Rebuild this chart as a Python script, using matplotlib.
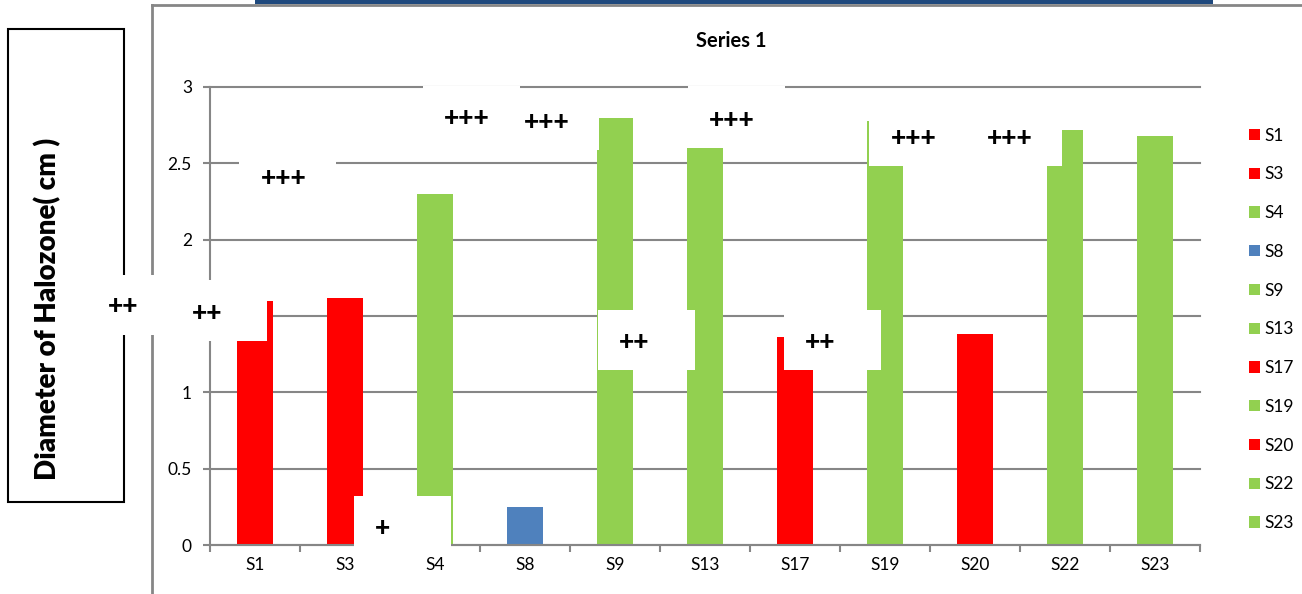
import numpy as np
import matplotlib.pyplot as plt
from matplotlib.patches import Rectangle, Patch
from matplotlib.lines import Line2D

W, H = 1302, 594

samples = ['S1', 'S3', 'S4', 'S8', 'S9', 'S13', 'S17', 'S19', 'S20', 'S22', 'S23']
diameter = [1.60, 1.62, 2.30, 0.25, 2.80, 2.60, 1.36, 2.78, 1.38, 2.72, 2.68]
colours = ['#ff0000', '#ff0000', '#92d050', '#4f81bd', '#92d050', '#92d050',
           '#ff0000', '#92d050', '#ff0000', '#92d050', '#92d050']
y_ticks = [0, 0.5, 1, 1.5, 2, 2.5, 3]
y_ticklabels = ['0', '0.5', '1', '1.5', '2', '2.5', '3']
activity = ['++', '++', '+', '+++', '+++', '+++', '+++', '+++', '+++', '++', '++']

# white text boxes pasted over the chart: (left, top, right, bottom) and text centre, px
box_rects = [(75, 275, 172, 335), (170, 280, 267, 341), (354, 496, 451, 553),
             (239, 148, 336, 208), (423, 86, 520, 148), (502, 92, 599, 150),
             (688, 86, 785, 147), (869, 106, 966, 166), (965, 106, 1062, 166),
             (598, 310, 695, 370), (784, 310, 881, 370)]
text_pos = [(123, 306), (207, 313), (382, 528), (284, 178), (467, 118), (547, 122),
            (732, 120), (914, 138), (1010, 138), (634, 342), (820, 342)]

plt.rcParams['font.family'] = ['Lato', 'DejaVu Sans']
grey = '#868686'


def fx(x):
    return x / W


def fy(y):
    return 1 - y / H


fig = plt.figure(figsize=(W / 100, H / 100), dpi=100)
fig.patch.set_facecolor('white')

ax = fig.add_axes([fx(210), fy(545), (1200 - 210) / W, (545 - 87) / H])
x = np.arange(len(samples))
ax.bar(x, diameter, width=0.4, color=colours, zorder=2)
ax.set_xlim(-0.5, len(samples) - 0.5)
ax.set_ylim(0, 3)
ax.set_yticks(y_ticks)
ax.set_yticklabels(y_ticklabels, fontsize=12.5)
ax.yaxis.grid(True, color=grey, lw=1.5, clip_on=False)
ax.set_axisbelow(True)
ax.set_xticks(x)
ax.set_xticklabels(samples, fontsize=12.5)
ax.set_xticks(np.arange(-0.5, len(samples)), minor=True)
ax.tick_params(axis='x', which='major', length=0, pad=9)
ax.tick_params(axis='x', which='minor', length=5, width=1.5, color=grey)
ax.tick_params(axis='y', length=5, width=1.5, color=grey, pad=8)
for s in ['top', 'right']:
    ax.spines[s].set_visible(False)
for s in ['left', 'bottom']:
    ax.spines[s].set_color(grey)
    ax.spines[s].set_linewidth(1.5)

handles = [Patch(facecolor=c, edgecolor='none') for c in colours]
ax.legend(handles, samples, loc='upper left', bbox_to_anchor=(fx(1240), fy(119)),
          bbox_transform=fig.transFigure, frameon=False, fontsize=12.5,
          handlelength=0.63, handleheight=0.63, handletextpad=0.25,
          labelspacing=1.31, borderpad=0)

# chart frame and hyperlink strip at the top edge
fig.add_artist(Line2D([fx(152), fx(152)], [fy(5), fy(594)], color=grey, lw=2, zorder=1))
fig.add_artist(Line2D([fx(152), fx(1302)], [fy(5), fy(5)], color=grey, lw=2, zorder=1))
fig.add_artist(Rectangle((fx(255), fy(4)), (1213 - 255) / W, 4 / H,
                         facecolor='#1f497d', edgecolor='none', zorder=1))

# axis title box
fig.add_artist(Rectangle((fx(8), fy(502)), (124 - 8) / W, (502 - 29) / H,
                         facecolor='none', edgecolor='black', lw=1.5, zorder=1))
fig.text(fx(48), fy(309), 'Diameter of Halozone( cm )', rotation=90,
         ha='center', va='center', fontsize=20, fontweight='heavy', zorder=2)

fig.text(fx(731), fy(41), 'Series 1', ha='center', va='center',
         fontsize=14.5, fontweight='bold')

for (x0, y0, x1, y1), (tx, ty), label in zip(box_rects, text_pos, activity):
    fig.add_artist(Rectangle((fx(x0), fy(y1)), (x1 - x0) / W, (y1 - y0) / H,
                             facecolor='white', edgecolor='none', zorder=5))
    fig.text(fx(tx), fy(ty), label, ha='center', va='center',
             fontsize=19, fontweight='black', zorder=6)

fig.savefig('out.png', dpi=100)
